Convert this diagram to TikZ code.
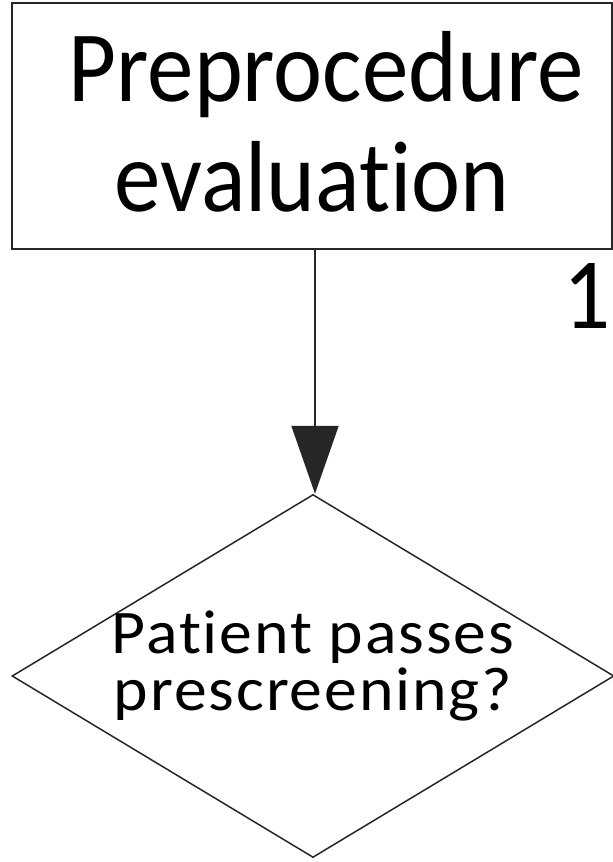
\documentclass[tikz,border=0pt]{standalone}
\usepackage{fontspec}
\setmainfont{Carlito}[Ligatures=NoCommon]
\newfontfamily\boxfont{Carlito}[Ligatures=NoCommon,FakeStretch=0.92]
\newfontfamily\diafont{Carlito}[Ligatures=NoCommon,FakeStretch=1.06,LetterSpace=3]
\usetikzlibrary{shapes.geometric,arrows.meta}
\begin{document}
\begin{tikzpicture}[x=1pt,y=-1pt,
  procbox/.style={draw=black!85,line width=2pt,rectangle,minimum width=600pt,minimum height=246pt,
    align=center,inner sep=0pt,font=\boxfont\fontsize{101}{110}\selectfont},
  decision/.style={draw=black!85,line width=1.5pt,diamond,minimum width=602pt,minimum height=363pt,
    inner sep=0pt},
  decisiontext/.style={align=center,inner sep=0pt,font=\diafont\fontsize{62}{57}\selectfont},
  flow/.style={draw=black!85,line width=2pt,-{Triangle[length=68pt,width=47pt]}}]
  \useasboundingbox (0,0) rectangle (613,862);
  \node[procbox] (eval) at (312,126) {\hspace*{28pt}Preprocedure\\evaluation\\[-100pt]};
  \node[decision] (screen) at (313,676) {};
  \node[decisiontext,anchor=base] (screentext) at (313,710) {Patient passes\\prescreening?};
  \node[font=\boxfont\fontsize{101}{110}\selectfont,anchor=base] (num) at (587,328) {1};
  \draw[flow] (eval.south -| 315,0) -- (screen.north -| 315,0);
\end{tikzpicture}
\end{document}
